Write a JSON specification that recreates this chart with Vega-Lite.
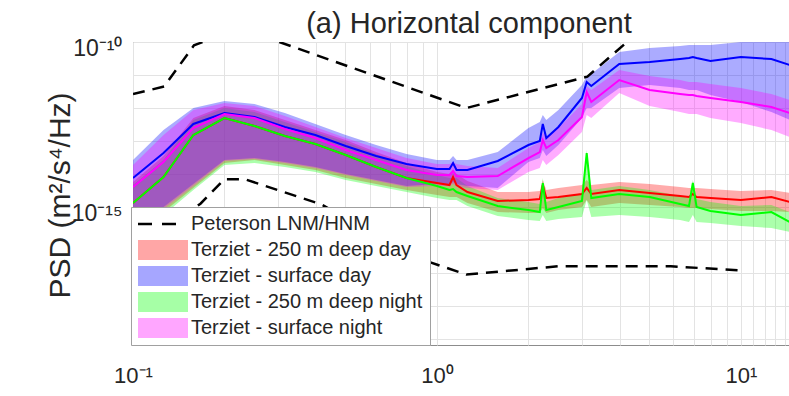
{
  "$schema": "https://vega.github.io/schema/vega-lite/v6.json",
  "width": 656,
  "height": 303,
  "autosize": {"type": "none"},
  "padding": {"left": 133, "top": 42, "right": 0, "bottom": 51},
  "background": "white",
  "title": {"text": "(a) Horizontal component", "fontSize": 29, "font": "Liberation Sans", "fontWeight": "normal", "color": "#262626", "anchor": "middle", "baseline": "alphabetic", "offset": 4, "dx": 8, "dy": 29},
  "config": {"view": {"stroke": "#8c8c8c", "strokeWidth": 1}},
  "datasets": {
    "psd": [
      {"f":0.1,"s":"Terziet - 250 m deep day","lo":2.31e-16,"med":1.32e-15,"hi":5.72e-15},
      {"f":0.126,"s":"Terziet - 250 m deep day","lo":7.06e-16,"med":8.11e-15,"hi":3.51e-14},
      {"f":0.158,"s":"Terziet - 250 m deep day","lo":3.77e-15,"med":1.52e-13,"hi":4.98e-13},
      {"f":0.2,"s":"Terziet - 250 m deep day","lo":2.15e-14,"med":4.98e-13,"hi":1.15e-12},
      {"f":0.251,"s":"Terziet - 250 m deep day","lo":2.66e-14,"med":2.85e-13,"hi":8.70e-13},
      {"f":0.316,"s":"Terziet - 250 m deep day","lo":1.87e-14,"med":1.42e-13,"hi":4.33e-13},
      {"f":0.398,"s":"Terziet - 250 m deep day","lo":1.32e-14,"med":8.11e-14,"hi":2.15e-13},
      {"f":0.501,"s":"Terziet - 250 m deep day","lo":7.57e-15,"med":3.77e-14,"hi":1.07e-13},
      {"f":0.631,"s":"Terziet - 250 m deep day","lo":4.98e-15,"med":1.63e-14,"hi":4.64e-14},
      {"f":0.794,"s":"Terziet - 250 m deep day","lo":3.28e-15,"med":7.57e-15,"hi":2.15e-14},
      {"f":1.0,"s":"Terziet - 250 m deep day","lo":2.31e-15,"med":5.34e-15,"hi":1.15e-14},
      {"f":1.10,"s":"Terziet - 250 m deep day","lo":2.01e-15,"med":4.64e-15,"hi":1e-14},
      {"f":1.13,"s":"Terziet - 250 m deep day","lo":2.01e-15,"med":8.11e-15,"hi":1.32e-14},
      {"f":1.16,"s":"Terziet - 250 m deep day","lo":2.01e-15,"med":4.64e-15,"hi":1e-14},
      {"f":1.26,"s":"Terziet - 250 m deep day","lo":1.32e-15,"med":2.85e-15,"hi":6.14e-15},
      {"f":1.585,"s":"Terziet - 250 m deep day","lo":7.06e-16,"med":1.52e-15,"hi":2.85e-15},
      {"f":2.0,"s":"Terziet - 250 m deep day","lo":6.58e-16,"med":1.63e-15,"hi":2.85e-15},
      {"f":2.18,"s":"Terziet - 250 m deep day","lo":6.58e-16,"med":1.75e-15,"hi":3.05e-15},
      {"f":2.23,"s":"Terziet - 250 m deep day","lo":9.33e-16,"med":4.64e-15,"hi":6.58e-15},
      {"f":2.29,"s":"Terziet - 250 m deep day","lo":6.58e-16,"med":1.87e-15,"hi":3.28e-15},
      {"f":2.51,"s":"Terziet - 250 m deep day","lo":8.11e-16,"med":2.01e-15,"hi":3.77e-15},
      {"f":3.0,"s":"Terziet - 250 m deep day","lo":1e-15,"med":2.48e-15,"hi":4.64e-15},
      {"f":3.11,"s":"Terziet - 250 m deep day","lo":1.63e-15,"med":3.77e-15,"hi":6.58e-15},
      {"f":3.22,"s":"Terziet - 250 m deep day","lo":1e-15,"med":2.48e-15,"hi":4.64e-15},
      {"f":3.98,"s":"Terziet - 250 m deep day","lo":1.32e-15,"med":3.28e-15,"hi":5.72e-15},
      {"f":5.01,"s":"Terziet - 250 m deep day","lo":1.15e-15,"med":2.66e-15,"hi":4.98e-15},
      {"f":6.31,"s":"Terziet - 250 m deep day","lo":1e-15,"med":2.15e-15,"hi":4.04e-15},
      {"f":6.75,"s":"Terziet - 250 m deep day","lo":9.33e-16,"med":2.01e-15,"hi":3.77e-15},
      {"f":6.95,"s":"Terziet - 250 m deep day","lo":9.33e-16,"med":2.48e-15,"hi":3.77e-15},
      {"f":7.15,"s":"Terziet - 250 m deep day","lo":9.33e-16,"med":2.01e-15,"hi":3.77e-15},
      {"f":7.94,"s":"Terziet - 250 m deep day","lo":8.70e-16,"med":1.87e-15,"hi":3.51e-15},
      {"f":10.0,"s":"Terziet - 250 m deep day","lo":7.57e-16,"med":1.63e-15,"hi":3.05e-15},
      {"f":12.6,"s":"Terziet - 250 m deep day","lo":7.57e-16,"med":2.01e-15,"hi":3.28e-15},
      {"f":14.5,"s":"Terziet - 250 m deep day","lo":7.06e-16,"med":1.42e-15,"hi":2.66e-15},

      {"f":0.1,"s":"Terziet - 250 m deep night","lo":2.01e-16,"med":1.32e-15,"hi":4.64e-15},
      {"f":0.126,"s":"Terziet - 250 m deep night","lo":5.72e-16,"med":8.11e-15,"hi":2.66e-14},
      {"f":0.158,"s":"Terziet - 250 m deep night","lo":3.28e-15,"med":1.52e-13,"hi":4.33e-13},
      {"f":0.2,"s":"Terziet - 250 m deep night","lo":1.87e-14,"med":4.98e-13,"hi":1e-12},
      {"f":0.251,"s":"Terziet - 250 m deep night","lo":2.15e-14,"med":2.85e-13,"hi":7.57e-13},
      {"f":0.316,"s":"Terziet - 250 m deep night","lo":1.63e-14,"med":1.42e-13,"hi":3.77e-13},
      {"f":0.398,"s":"Terziet - 250 m deep night","lo":1.15e-14,"med":8.11e-14,"hi":1.87e-13},
      {"f":0.501,"s":"Terziet - 250 m deep night","lo":6.58e-15,"med":3.77e-14,"hi":9.33e-14},
      {"f":0.631,"s":"Terziet - 250 m deep night","lo":4.33e-15,"med":1.63e-14,"hi":4.04e-14},
      {"f":0.794,"s":"Terziet - 250 m deep night","lo":2.85e-15,"med":7.57e-15,"hi":1.75e-14},
      {"f":1.0,"s":"Terziet - 250 m deep night","lo":1.87e-15,"med":4.33e-15,"hi":9.33e-15},
      {"f":1.10,"s":"Terziet - 250 m deep night","lo":1.63e-15,"med":3.28e-15,"hi":7.57e-15},
      {"f":1.13,"s":"Terziet - 250 m deep night","lo":1.63e-15,"med":3.51e-15,"hi":7.57e-15},
      {"f":1.16,"s":"Terziet - 250 m deep night","lo":1.63e-15,"med":2.85e-15,"hi":7.57e-15},
      {"f":1.26,"s":"Terziet - 250 m deep night","lo":1.07e-15,"med":2.15e-15,"hi":4.33e-15},
      {"f":1.585,"s":"Terziet - 250 m deep night","lo":5.34e-16,"med":1.07e-15,"hi":1.87e-15},
      {"f":2.0,"s":"Terziet - 250 m deep night","lo":4.04e-16,"med":8.11e-16,"hi":1.42e-15},
      {"f":2.18,"s":"Terziet - 250 m deep night","lo":3.77e-16,"med":7.06e-16,"hi":1.23e-15},
      {"f":2.23,"s":"Terziet - 250 m deep night","lo":5.72e-16,"med":5.34e-15,"hi":7.57e-15},
      {"f":2.29,"s":"Terziet - 250 m deep night","lo":3.77e-16,"med":8.11e-16,"hi":1.42e-15},
      {"f":2.51,"s":"Terziet - 250 m deep night","lo":4.33e-16,"med":1e-15,"hi":1.87e-15},
      {"f":3.0,"s":"Terziet - 250 m deep night","lo":4.98e-16,"med":1.52e-15,"hi":2.66e-15},
      {"f":3.11,"s":"Terziet - 250 m deep night","lo":1.63e-15,"med":4.33e-14,"hi":5.34e-14},
      {"f":3.22,"s":"Terziet - 250 m deep night","lo":4.98e-16,"med":1.87e-15,"hi":3.28e-15},
      {"f":3.98,"s":"Terziet - 250 m deep night","lo":5.72e-16,"med":2.48e-15,"hi":4.33e-15},
      {"f":5.01,"s":"Terziet - 250 m deep night","lo":4.98e-16,"med":2.01e-15,"hi":3.28e-15},
      {"f":6.31,"s":"Terziet - 250 m deep night","lo":4.04e-16,"med":1.23e-15,"hi":2.15e-15},
      {"f":6.75,"s":"Terziet - 250 m deep night","lo":3.51e-16,"med":1.07e-15,"hi":1.87e-15},
      {"f":6.95,"s":"Terziet - 250 m deep night","lo":5.72e-16,"med":5.34e-15,"hi":6.58e-15},
      {"f":7.15,"s":"Terziet - 250 m deep night","lo":3.51e-16,"med":1e-15,"hi":1.75e-15},
      {"f":7.94,"s":"Terziet - 250 m deep night","lo":3.28e-16,"med":7.57e-16,"hi":1.42e-15},
      {"f":10.0,"s":"Terziet - 250 m deep night","lo":2.66e-16,"med":5.72e-16,"hi":1.07e-15},
      {"f":12.6,"s":"Terziet - 250 m deep night","lo":2.31e-16,"med":7.06e-16,"hi":1.15e-15},
      {"f":14.5,"s":"Terziet - 250 m deep night","lo":1.75e-16,"med":3.51e-16,"hi":7.06e-16},

      {"f":0.1,"s":"Terziet - surface day","lo":3.51e-16,"med":7.57e-15,"hi":2.66e-14},
      {"f":0.126,"s":"Terziet - surface day","lo":1e-15,"med":4.33e-14,"hi":2.15e-13},
      {"f":0.158,"s":"Terziet - surface day","lo":4.98e-15,"med":3.28e-13,"hi":1e-12},
      {"f":0.2,"s":"Terziet - surface day","lo":2.66e-14,"med":7.06e-13,"hi":1.63e-12},
      {"f":0.251,"s":"Terziet - surface day","lo":3.05e-14,"med":5.34e-13,"hi":1.32e-12},
      {"f":0.316,"s":"Terziet - surface day","lo":2.31e-14,"med":2.66e-13,"hi":7.06e-13},
      {"f":0.398,"s":"Terziet - surface day","lo":1.63e-14,"med":1.52e-13,"hi":3.28e-13},
      {"f":0.501,"s":"Terziet - surface day","lo":1e-14,"med":7.06e-14,"hi":1.52e-13},
      {"f":0.631,"s":"Terziet - surface day","lo":6.58e-15,"med":3.51e-14,"hi":7.57e-14},
      {"f":0.794,"s":"Terziet - surface day","lo":4.33e-15,"med":2.01e-14,"hi":4.04e-14},
      {"f":1.0,"s":"Terziet - surface day","lo":4.98e-15,"med":1.42e-14,"hi":2.66e-14},
      {"f":1.10,"s":"Terziet - surface day","lo":4.98e-15,"med":1.42e-14,"hi":2.66e-14},
      {"f":1.13,"s":"Terziet - surface day","lo":5.72e-15,"med":2.15e-14,"hi":3.51e-14},
      {"f":1.16,"s":"Terziet - surface day","lo":4.98e-15,"med":1.32e-14,"hi":2.66e-14},
      {"f":1.26,"s":"Terziet - surface day","lo":4.33e-15,"med":1.32e-14,"hi":2.66e-14},
      {"f":1.585,"s":"Terziet - surface day","lo":3.77e-15,"med":2.48e-14,"hi":4.64e-14},
      {"f":2.0,"s":"Terziet - surface day","lo":2.31e-14,"med":7.57e-14,"hi":2.48e-13},
      {"f":2.18,"s":"Terziet - surface day","lo":3.05e-14,"med":1e-13,"hi":3.77e-13},
      {"f":2.23,"s":"Terziet - surface day","lo":5.34e-14,"med":3.28e-13,"hi":6.14e-13},
      {"f":2.29,"s":"Terziet - surface day","lo":3.51e-14,"med":1.23e-13,"hi":4.33e-13},
      {"f":2.51,"s":"Terziet - surface day","lo":7.57e-14,"med":2.66e-13,"hi":8.70e-13},
      {"f":3.0,"s":"Terziet - surface day","lo":4.98e-13,"med":2.01e-12,"hi":4.98e-12},
      {"f":3.11,"s":"Terziet - surface day","lo":1e-12,"med":6.14e-12,"hi":9.33e-12},
      {"f":3.22,"s":"Terziet - surface day","lo":1e-12,"med":4.64e-12,"hi":1.07e-11},
      {"f":3.98,"s":"Terziet - surface day","lo":4.04e-12,"med":2.15e-11,"hi":4.98e-11},
      {"f":5.01,"s":"Terziet - surface day","lo":4.98e-12,"med":2.48e-11,"hi":6.58e-11},
      {"f":6.31,"s":"Terziet - surface day","lo":4.04e-12,"med":3.05e-11,"hi":7.57e-11},
      {"f":6.75,"s":"Terziet - surface day","lo":3.51e-12,"med":3.28e-11,"hi":8.11e-11},
      {"f":6.95,"s":"Terziet - surface day","lo":3.51e-12,"med":3.51e-11,"hi":8.11e-11},
      {"f":7.15,"s":"Terziet - surface day","lo":3.51e-12,"med":3.28e-11,"hi":8.11e-11},
      {"f":7.94,"s":"Terziet - surface day","lo":2.48e-12,"med":2.66e-11,"hi":8.11e-11},
      {"f":10.0,"s":"Terziet - surface day","lo":1.52e-12,"med":3.51e-11,"hi":1e-10},
      {"f":12.6,"s":"Terziet - surface day","lo":7.57e-13,"med":3.05e-11,"hi":1e-10},
      {"f":14.5,"s":"Terziet - surface day","lo":4.33e-13,"med":2.01e-11,"hi":1e-10},

      {"f":0.1,"s":"Terziet - surface night","lo":3.05e-16,"med":4.04e-15,"hi":1.87e-14},
      {"f":0.126,"s":"Terziet - surface night","lo":8.70e-16,"med":2.31e-14,"hi":1.52e-13},
      {"f":0.158,"s":"Terziet - surface night","lo":4.33e-15,"med":2.48e-13,"hi":8.70e-13},
      {"f":0.2,"s":"Terziet - surface night","lo":2.48e-14,"med":6.58e-13,"hi":1.42e-12},
      {"f":0.251,"s":"Terziet - surface night","lo":2.85e-14,"med":4.98e-13,"hi":1.15e-12},
      {"f":0.316,"s":"Terziet - surface night","lo":2.15e-14,"med":2.31e-13,"hi":5.72e-13},
      {"f":0.398,"s":"Terziet - surface night","lo":1.52e-14,"med":1.23e-13,"hi":2.66e-13},
      {"f":0.501,"s":"Terziet - surface night","lo":9.33e-15,"med":5.34e-14,"hi":1.23e-13},
      {"f":0.631,"s":"Terziet - surface night","lo":6.14e-15,"med":2.66e-14,"hi":6.14e-14},
      {"f":0.794,"s":"Terziet - surface night","lo":4.04e-15,"med":1.32e-14,"hi":3.05e-14},
      {"f":1.0,"s":"Terziet - surface night","lo":4.33e-15,"med":9.33e-15,"hi":2.01e-14},
      {"f":1.10,"s":"Terziet - surface night","lo":4.33e-15,"med":9.33e-15,"hi":2.01e-14},
      {"f":1.13,"s":"Terziet - surface night","lo":4.98e-15,"med":1.23e-14,"hi":2.31e-14},
      {"f":1.16,"s":"Terziet - surface night","lo":4.33e-15,"med":8.70e-15,"hi":2.01e-14},
      {"f":1.26,"s":"Terziet - surface night","lo":3.77e-15,"med":8.11e-15,"hi":1.75e-14},
      {"f":1.585,"s":"Terziet - surface night","lo":3.28e-15,"med":8.70e-15,"hi":1.52e-14},
      {"f":2.0,"s":"Terziet - surface night","lo":1.15e-14,"med":3.05e-14,"hi":6.14e-14},
      {"f":2.18,"s":"Terziet - surface night","lo":1.52e-14,"med":4.64e-14,"hi":9.33e-14},
      {"f":2.23,"s":"Terziet - surface night","lo":2.66e-14,"med":1.07e-13,"hi":1.87e-13},
      {"f":2.29,"s":"Terziet - surface night","lo":1.87e-14,"med":6.14e-14,"hi":1.23e-13},
      {"f":2.51,"s":"Terziet - surface night","lo":3.77e-14,"med":1.07e-13,"hi":2.48e-13},
      {"f":3.0,"s":"Terziet - surface night","lo":1.87e-13,"med":5.34e-13,"hi":1.32e-12},
      {"f":3.11,"s":"Terziet - surface night","lo":6.14e-13,"med":3.05e-12,"hi":4.64e-12},
      {"f":3.22,"s":"Terziet - surface night","lo":4.98e-13,"med":1.52e-12,"hi":3.51e-12},
      {"f":3.98,"s":"Terziet - surface night","lo":2.85e-12,"med":7.06e-12,"hi":1.42e-11},
      {"f":5.01,"s":"Terziet - surface night","lo":1.15e-12,"med":3.51e-12,"hi":9.33e-12},
      {"f":6.31,"s":"Terziet - surface night","lo":7.57e-13,"med":2.66e-12,"hi":7.06e-12},
      {"f":6.75,"s":"Terziet - surface night","lo":6.58e-13,"med":2.48e-12,"hi":6.14e-12},
      {"f":6.95,"s":"Terziet - surface night","lo":6.58e-13,"med":2.48e-12,"hi":6.14e-12},
      {"f":7.15,"s":"Terziet - surface night","lo":6.58e-13,"med":2.31e-12,"hi":6.14e-12},
      {"f":7.94,"s":"Terziet - surface night","lo":4.98e-13,"med":2.01e-12,"hi":5.34e-12},
      {"f":10.0,"s":"Terziet - surface night","lo":3.51e-13,"med":1.52e-12,"hi":4.04e-12},
      {"f":12.6,"s":"Terziet - surface night","lo":2.15e-13,"med":1.07e-12,"hi":2.66e-12},
      {"f":14.5,"s":"Terziet - surface night","lo":1.32e-13,"med":7.06e-13,"hi":1.75e-12}
    ],
    "peterson": [
      {"f":0.1,"s":"Peterson LNM/HNM","c":"HNM1","p":2.64e-12},
      {"f":0.1266,"s":"Peterson LNM/HNM","c":"HNM1","p":4.48e-12},
      {"f":0.1587,"s":"Peterson LNM/HNM","c":"HNM1","p":7.94e-11},
      {"f":0.170,"s":"Peterson LNM/HNM","c":"HNM1","p":1e-10},
      {"f":0.303,"s":"Peterson LNM/HNM","c":"HNM2","p":1e-10},
      {"f":1.25,"s":"Peterson LNM/HNM","c":"HNM2","p":1e-12},
      {"f":3.125,"s":"Peterson LNM/HNM","c":"HNM2","p":8.91e-12},
      {"f":4.22,"s":"Peterson LNM/HNM","c":"HNM2","p":1e-10},
      {"f":0.1,"s":"Peterson LNM/HNM","c":"LNM","p":4.22e-17},
      {"f":0.1667,"s":"Peterson LNM/HNM","c":"LNM","p":1.26e-15},
      {"f":0.2,"s":"Peterson LNM/HNM","c":"LNM","p":7.0e-15},
      {"f":0.2326,"s":"Peterson LNM/HNM","c":"LNM","p":7.0e-15},
      {"f":0.4167,"s":"Peterson LNM/HNM","c":"LNM","p":1.2e-15},
      {"f":0.8065,"s":"Peterson LNM/HNM","c":"LNM","p":3.5e-17},
      {"f":1.25,"s":"Peterson LNM/HNM","c":"LNM","p":9e-18},
      {"f":2.5,"s":"Peterson LNM/HNM","c":"LNM","p":1.6e-17},
      {"f":5.882,"s":"Peterson LNM/HNM","c":"LNM","p":1.6e-17},
      {"f":10,"s":"Peterson LNM/HNM","c":"LNM","p":1.2e-17}
    ]
  },
  "layer": [
    {
      "data": {"name": "psd"},
      "mark": {"type": "area", "clip": true, "fillOpacity": 0.33, "strokeWidth": 0},
      "encoding": {
        "x": {"field": "f", "type": "quantitative", "scale": {"type": "log", "domain": [0.1, 14.4], "nice": false},
          "axis": {"title": null, "values": [0.1,0.2,0.3,0.4,0.5,0.6,0.7,0.8,0.9,1,2,3,4,5,6,7,8,9,10,11,12,13,14],
            "labelExpr": "datum.value == 0.1 ? '10⁻¹' : datum.value == 1 ? '10⁰' : datum.value == 10 ? '10¹' : ''",
            "grid": true, "gridColor": "#e3e3e3", "ticks": false, "domain": false,
            "labelFont": "Liberation Sans", "labelFontSize": 22, "labelColor": "#262626", "labelPadding": 20,
            "labelOverlap": false, "labelFlush": false}},
        "y": {"field": "lo", "type": "quantitative", "scale": {"type": "log", "domain": [6.6e-20, 1e-10], "nice": false},
          "title": "PSD (m²/s⁴/Hz)",
          "axis": {"values": [1e-10,1e-11,1e-12,1e-13,1e-14,1e-15,1e-16,1e-17,1e-18,1e-19],
            "labelExpr": "datum.value == 1e-10 ? '10⁻¹⁰' : datum.value == 1e-15 ? '10⁻¹⁵' : ''",
            "grid": true, "gridColor": "#e3e3e3", "ticks": false, "domain": false,
            "labelFont": "Liberation Sans", "labelFontSize": 23, "labelColor": "#262626", "labelPadding": 11, "labelOffset": 6,
            "labelOverlap": false, "labelFlush": false,
            "titleFont": "Liberation Sans", "titleFontSize": 30, "titleFontWeight": "normal", "titleColor": "#262626",
            "titleX": -73, "titleY": 153, "titleAngle": -90, "titleAlign": "center", "titleBaseline": "middle"}},
        "y2": {"field": "hi"},
        "fill": {"field": "s", "type": "nominal", "legend": null,
          "scale": {"domain": ["Terziet - 250 m deep day","Terziet - surface day","Terziet - 250 m deep night","Terziet - surface night"],
                    "range": ["#ff0000","#0000ff","#00ff00","#ff00ff"]}}
      }
    },
    {
      "data": {"name": "psd"},
      "mark": {"type": "line", "clip": true, "strokeWidth": 2},
      "encoding": {
        "x": {"field": "f", "type": "quantitative", "scale": {"type": "log", "domain": [0.1, 14.4], "nice": false}},
        "y": {"field": "med", "type": "quantitative", "scale": {"type": "log", "domain": [6.6e-20, 1e-10], "nice": false}, "title": "PSD (m²/s⁴/Hz)"},
        "color": {"field": "s", "type": "nominal",
          "scale": {"domain": ["Peterson LNM/HNM","Terziet - 250 m deep day","Terziet - surface day","Terziet - 250 m deep night","Terziet - surface night"],
                    "range": ["#000000","#ff0000","#0000ff","#00ff00","#ff00ff"]},
          "legend": {"orient": "none", "legendX": -2, "legendY": 165, "title": null, "direction": "vertical",
            "padding": 7, "rowPadding": 6, "strokeColor": "#a0a0a0", "fillColor": "white",
            "labelFont": "Liberation Sans", "labelFontSize": 20, "labelColor": "#262626", "labelOffset": 33, "labelLimit": 400,
            "symbolSize": 400, "symbolType": "M-1,-1H4V1H-1Z", "symbolStrokeWidth": 2.5,
            "encode": {"symbols": {"update": {
              "shape": {"signal": "datum.value === 'Peterson LNM/HNM' ? 'M-1,0H2.8' : 'M-1,-1H4V1H-1Z'"},
              "fill": {"signal": "datum.value === 'Peterson LNM/HNM' ? 'transparent' : datum.value === 'Terziet - 250 m deep day' ? '#ffa6a6' : datum.value === 'Terziet - surface day' ? '#a6a6ff' : datum.value === 'Terziet - 250 m deep night' ? '#a6ffa6' : '#ffa6ff'"},
              "stroke": {"signal": "datum.value === 'Peterson LNM/HNM' ? '#000000' : 'transparent'"},
              "strokeWidth": {"signal": "datum.value === 'Peterson LNM/HNM' ? 2.5 : 0"},
              "strokeDash": {"signal": "datum.value === 'Peterson LNM/HNM' ? [14,10] : []"},
              "opacity": {"value": 1}, "fillOpacity": {"value": 1}
            }}}}}
      }
    },
    {
      "data": {"name": "peterson"},
      "mark": {"type": "line", "clip": true, "strokeWidth": 2.5, "strokeDash": [12, 8]},
      "encoding": {
        "x": {"field": "f", "type": "quantitative", "scale": {"type": "log", "domain": [0.1, 14.4], "nice": false}},
        "y": {"field": "p", "type": "quantitative", "scale": {"type": "log", "domain": [6.6e-20, 1e-10], "nice": false}, "title": "PSD (m²/s⁴/Hz)"},
        "color": {"field": "s", "type": "nominal"},
        "detail": {"field": "c", "type": "nominal"}
      }
    }
  ]
}
